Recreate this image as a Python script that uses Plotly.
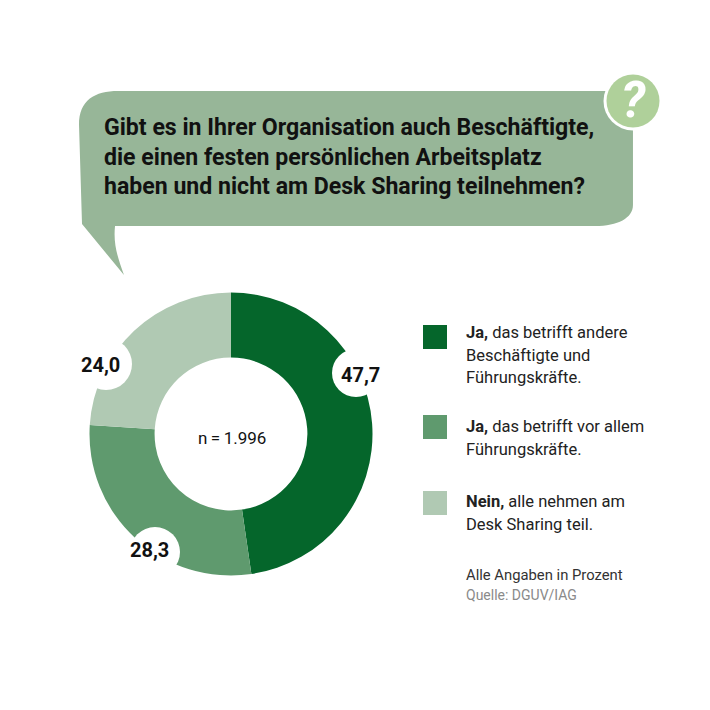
import plotly.graph_objects as go

SIZE = 710

categories = ["Ja, das betrifft andere Beschäftigte und Führungskräfte.",
              "Ja, das betrifft vor allem Führungskräfte.",
              "Nein, alle nehmen am Desk Sharing teil."]
values = [47.7, 28.3, 24.0]
value_labels = ["47,7", "28,3", "24,0"]
colors = ["#05662b", "#5f9a6e", "#b0c9b3"]

question_lines = ["Gibt es in Ihrer Organisation auch Beschäftigte,",
                  "die einen festen persönlichen Arbeitsplatz",
                  "haben und nicht am Desk Sharing teilnehmen?"]
legend_lines = [["<b>Ja,</b> das betrifft andere", "Beschäftigte und", "Führungskräfte."],
                ["<b>Ja,</b> das betrifft vor allem", "Führungskräfte."],
                ["<b>Nein,</b> alle nehmen am", "Desk Sharing teil."]]

FONT = "Roboto"


def px_x(x):
    return x / SIZE


def px_y(y):
    return 1 - y / SIZE


def add_text(fig, x, y, text, size, color="#111111", anchor="left", family=FONT):
    fig.add_annotation(x=px_x(x), y=px_y(y), xref="paper", yref="paper", text=text,
                       showarrow=False, xanchor=anchor, yanchor="middle",
                       font=dict(family=family, size=size, color=color))


def add_circle(fig, cx, cy, r, color):
    fig.add_shape(type="circle", xref="paper", yref="paper", layer="above",
                  x0=px_x(cx - r), x1=px_x(cx + r), y0=px_y(cy + r), y1=px_y(cy - r),
                  fillcolor=color, line_width=0)


fig = go.Figure(go.Pie(labels=categories, values=values, hole=0.54, sort=False,
                       direction="clockwise", rotation=0, textinfo="none",
                       marker=dict(colors=colors, line_width=0),
                       domain=dict(x=[px_x(89.5), px_x(372.5)], y=[px_y(576), px_y(292)])))

# speech bubble
bubble = ("M 79 125 C 79 100 95 91 118 91 L 633 91 L 633 205 C 633 218 618 226 595 226 "
          "L 115 226 C 113 245 118 258 124 275 L 82 224 Z")
pts = bubble.split()
path = []
i = 0
while i < len(pts):
    if pts[i].isalpha():
        path.append(pts[i])
        i += 1
    else:
        path.append(f"{px_x(float(pts[i])):.4f},{px_y(float(pts[i + 1])):.4f}")
        i += 2
fig.add_shape(type="path", xref="paper", yref="paper", path=" ".join(path),
              fillcolor="#97b698", line_width=0, layer="below")

add_circle(fig, 633, 101, 29.5, "#ffffff")
add_circle(fig, 633, 101, 26.5, "#afd09a")
add_text(fig, 633, 100, "<b><i>?</i></b>", 50, "#ffffff", "center")

for y, line in zip([128, 157, 186], question_lines):
    add_text(fig, 102, y, f"<b>{line}</b>", 23.1)

# notches for the value labels
add_circle(fig, 356, 373, 24, "#ffffff")
add_circle(fig, 155, 552, 25, "#ffffff")
add_circle(fig, 106, 364, 26, "#ffffff")
add_text(fig, 360, 375, f"<b>{value_labels[0]}</b>", 20, anchor="center")
add_text(fig, 149, 550, f"<b>{value_labels[1]}</b>", 20, anchor="center")
add_text(fig, 100, 365, f"<b>{value_labels[2]}</b>", 20, anchor="center")

add_text(fig, 232, 438, "n\u2009=\u20091.996", 17, anchor="center")

# legend
square_tops = [325, 415, 491]
line_ys = [[332, 355, 378], [426, 449], [502, 524]]
for top, color, lines, ys in zip(square_tops, colors, legend_lines, line_ys):
    fig.add_shape(type="rect", xref="paper", yref="paper", x0=px_x(423), x1=px_x(447),
                  y0=px_y(top + 24), y1=px_y(top), fillcolor=color, line_width=0)
    for y, line in zip(ys, lines):
        add_text(fig, 464, y, line, 16.5, "#222222")

add_text(fig, 464, 575, "Alle Angaben in Prozent", 14.8, "#333333")
add_text(fig, 464, 595, "Quelle: DGUV/IAG", 14, "#8a8a8a")

fig.update_layout(width=SIZE, height=SIZE, margin=dict(l=0, r=0, t=0, b=0),
                  paper_bgcolor="#ffffff", plot_bgcolor="#ffffff", showlegend=False)

fig.write_html("out.html", config=dict(displayModeBar=False),
               post_script="document.body.style.margin = '0';")
